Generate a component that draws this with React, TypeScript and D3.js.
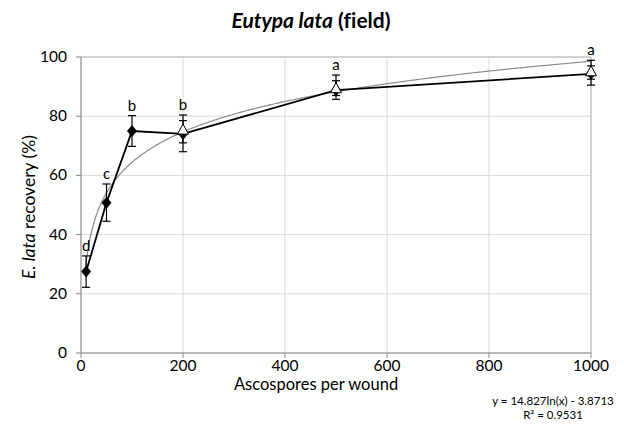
import React from "react";
import * as d3 from "d3";

const xValues = [10, 50, 100, 200, 500, 1000];
const meanValues = [27.5, 50.8, 75, 74, 88.8, 94.3];
const errLow = [22.2, 44.5, 69.8, 68, 85.7, 90.5];
const errHigh = [32.8, 57.1, 80.2, 78.5, 92, 97];
const letters = ["d", "c", "b", "b", "a", "a"];
const triX = [200, 500, 1000];
const triValues = [75.3, 89.3, 95];
const triLow = [71, 87, 92.5];
const triHigh = [80.4, 93.9, 98.9];
const xTicks = [0, 200, 400, 600, 800, 1000];
const yTicks = [0, 20, 40, 60, 80, 100];
const trendA = 14.827;
const trendB = -3.8713;

const W = 624;
const H = 434;
const left = 81;
const right = 591;
const top = 57;
const bottom = 353;

export default function App() {
  const x = d3.scaleLinear().domain([0, 1000]).range([left, right]);
  const y = d3.scaleLinear().domain([0, 100]).range([bottom, top]);
  const font = "Lato, 'Open Sans', 'Liberation Sans', sans-serif";

  const trendPts: [number, number][] = [];
  for (let v = 8; v <= 1000; v += 2) trendPts.push([v, trendA * Math.log(v) + trendB]);
  const trendLine = d3
    .line<[number, number]>()
    .x((d) => x(d[0]))
    .y((d) => y(d[1]))(trendPts.filter((d) => d[1] >= 0));

  const dataLine = d3
    .line<number>()
    .x((_, i) => x(xValues[i]))
    .y((d) => y(d))(meanValues);

  const diamond = (cx: number, cy: number) =>
    `M${cx},${cy - 6}L${cx + 5},${cy}L${cx},${cy + 6}L${cx - 5},${cy}Z`;
  const tri = (cx: number, cy: number) =>
    `M${cx},${cy - 6}L${cx + 5.5},${cy + 4}L${cx - 5.5},${cy + 4}Z`;

  const letterTop = (i: number) => {
    const idx = triX.indexOf(xValues[i]);
    return Math.max(errHigh[i], idx >= 0 ? triHigh[idx] : 0);
  };

  return (
    <svg width={W} height={H} style={{ position: "absolute", left: 0, top: 0, background: "#fff", fontVariantLigatures: "none" }}>
      {yTicks.map((t) => (
        <line key={"gy" + t} x1={left} x2={right} y1={y(t)} y2={y(t)} stroke={t === 100 ? "#a6a6a6" : "#d9d9d9"} strokeWidth={1} />
      ))}
      {xTicks.map((t) => (
        <line key={"gx" + t} x1={x(t)} x2={x(t)} y1={top} y2={bottom} stroke={t === 1000 ? "#a6a6a6" : "#d9d9d9"} strokeWidth={1} />
      ))}
      <line x1={left} x2={left} y1={top} y2={bottom} stroke="#868686" />
      <line x1={left} x2={right} y1={bottom} y2={bottom} stroke="#868686" />
      {yTicks.map((t) => (
        <g key={"ty" + t}>
          <line x1={left - 5} x2={left} y1={y(t)} y2={y(t)} stroke="#868686" />
          <text x={67} y={y(t) + 5} textAnchor="end" fontFamily={font} fontSize={15.5} fill="#000">
            {t}
          </text>
        </g>
      ))}
      {xTicks.map((t) => (
        <g key={"tx" + t}>
          <line x1={x(t)} x2={x(t)} y1={bottom} y2={bottom + 5} stroke="#868686" />
          <text x={x(t)} y={bottom + 18} textAnchor="middle" fontFamily={font} fontSize={15.5} fill="#000">
            {t}
          </text>
        </g>
      ))}
      <path d={trendLine || ""} fill="none" stroke="#8c8c8c" strokeWidth={1.2} />
      <path d={dataLine || ""} fill="none" stroke="#000" strokeWidth={1.8} />
      {xValues.map((v, i) => (
        <g key={"e" + i} stroke="#000" strokeWidth={1.2}>
          <line x1={x(v)} x2={x(v)} y1={y(errLow[i])} y2={y(errHigh[i])} />
          <line x1={x(v) - 4} x2={x(v) + 4} y1={y(errLow[i])} y2={y(errLow[i])} />
          <line x1={x(v) - 4} x2={x(v) + 4} y1={y(errHigh[i])} y2={y(errHigh[i])} />
        </g>
      ))}
      {triX.map((v, i) => (
        <g key={"te" + i} stroke="#000" strokeWidth={1.2}>
          <line x1={x(v)} x2={x(v)} y1={y(triLow[i])} y2={y(triHigh[i])} />
          <line x1={x(v) - 4} x2={x(v) + 4} y1={y(triLow[i])} y2={y(triLow[i])} />
          <line x1={x(v) - 4} x2={x(v) + 4} y1={y(triHigh[i])} y2={y(triHigh[i])} />
        </g>
      ))}
      {xValues.map((v, i) => (
        <path key={"m" + i} d={diamond(x(v), y(meanValues[i]))} fill="#000" />
      ))}
      {triX.map((v, i) => (
        <path key={"t" + i} d={tri(x(v), y(triValues[i]))} fill="#fff" stroke="#000" strokeWidth={1} />
      ))}
      {xValues.map((v, i) => (
        <text key={"l" + i} x={x(v)} y={y(letterTop(i)) - 5} textAnchor="middle" fontFamily={font} fontSize={15} fill="#000">
          {letters[i]}
        </text>
      ))}
      <text x={311} y={28} textAnchor="middle" fontFamily={font} fontSize={21} fontWeight="bold" fill="#000">
        <tspan fontStyle="italic">Eutypa lata</tspan> (field)
      </text>
      <text x={316} y={390} textAnchor="middle" fontFamily={font} fontSize={16.5} fill="#000">
        Ascospores per wound
      </text>
      <text transform={`translate(35,207) rotate(-90)`} textAnchor="middle" fontFamily={font} fontSize={17.5} fill="#000">
        <tspan fontStyle="italic">E. lata</tspan> recovery (%)
      </text>
      <text x={553} y={405} textAnchor="middle" fontFamily={font} fontSize={11.5} fill="#000">
        y = 14.827ln(x) - 3.8713
      </text>
      <text x={553} y={419} textAnchor="middle" fontFamily={font} fontSize={11.5} fill="#000">
        R² = 0.9531
      </text>
    </svg>
  );
}
